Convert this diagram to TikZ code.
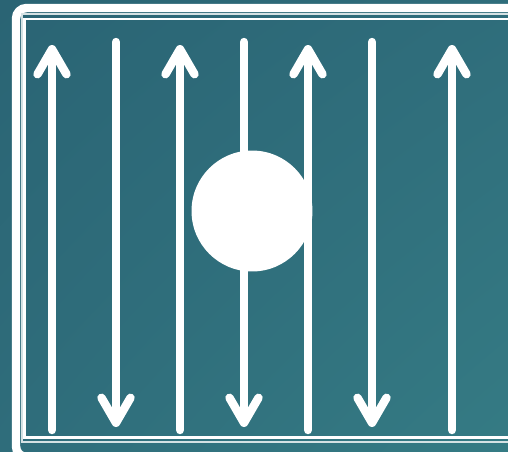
\documentclass[tikz,border=0pt]{standalone}
\usetikzlibrary{arrows.meta, shadings}
\definecolor{panel}{HTML}{2F6D7B}
\definecolor{paneldark}{HTML}{2A6474}
\definecolor{panellight}{HTML}{357B84}

\begin{document}
\begin{tikzpicture}[x=0.02cm, y=-0.02cm,
  lane/.style={white, line width=4.8pt, line cap=round},
  flow/.style={lane, -{Straight Barb[length=0.5cm, width=0.58cm, round]}}]
\shade[upper left=paneldark, upper right=panel, lower left=panel, lower right=panellight]
  (0,0) rectangle (508,451);
\clip (0,0) rectangle (508,451);
% frame
\draw[white, line width=4.8pt, rounded corners=6] (540,8) -- (16,8) -- (16,457) -- (540,457);
\draw[white!80!panel, line width=0.9pt] (540,14) -- (22,14) -- (22,442) -- (540,442);
\draw[white, line width=1.5pt] (540,19) -- (24.5,19) -- (24.5,437.5) -- (540,437.5);
% lanes going up
\foreach \x [count=\i] in {52,180,308,452} {
  \coordinate (ub\i) at (\x,430);
  \coordinate (ut\i) at (\x,45);
  \draw[flow] (ub\i) -- (ut\i);
}
% lanes going down
\foreach \x [count=\i] in {116,244,372} {
  \coordinate (dt\i) at (\x,42);
  \coordinate (db\i) at (\x,427);
  \draw[flow] (dt\i) -- (db\i);
}
\node (ball) [circle, fill=white, inner sep=0pt, minimum size=2.42cm] at (252,211) {};
\end{tikzpicture}
\end{document}
